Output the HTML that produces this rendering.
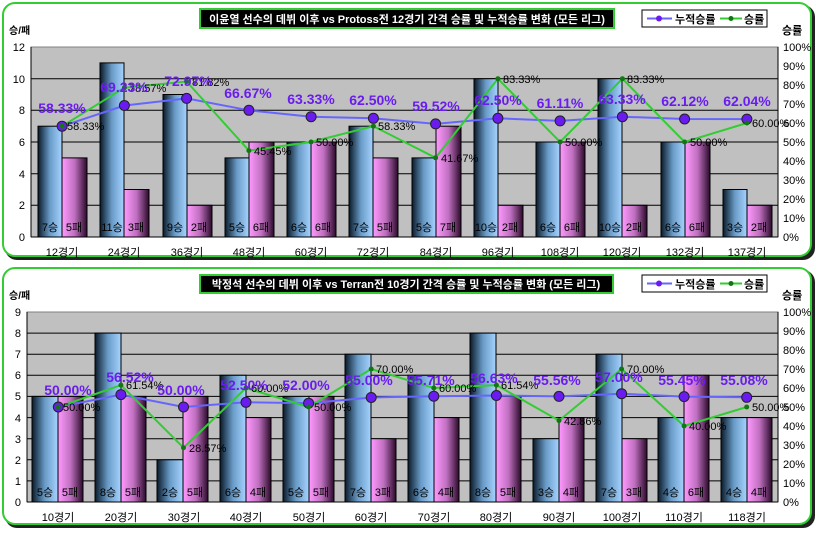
<!DOCTYPE html>
<html><head><meta charset="utf-8"><style>
body{margin:0;background:#fff}
svg text{font-family:"Liberation Sans","Noto Sans CJK KR",sans-serif}
.ax{font-size:11px;fill:#000}
.cat{font-size:11px;fill:#000;text-anchor:middle}
.in{font-size:11px;fill:#000;text-anchor:middle}
.cum{font-size:14px;font-weight:bold;fill:#6a1cf0;text-anchor:middle}
.wl{font-size:11px;fill:#000}
</style></head><body>
<svg width="817" height="530" xmlns="http://www.w3.org/2000/svg">
<defs>
<linearGradient id="gb" x1="0" x2="1" y1="0" y2="0"><stop offset="0" stop-color="#0a1a2a"/><stop offset="0.5" stop-color="#6a9cc8"/><stop offset="1" stop-color="#a6d2ff"/></linearGradient>
<linearGradient id="gp" x1="0" x2="1" y1="0" y2="0"><stop offset="0" stop-color="#ff99ff"/><stop offset="0.5" stop-color="#c070c0"/><stop offset="1" stop-color="#2a0a2a"/></linearGradient>
</defs>
<!-- panels -->
<rect x="5" y="5" width="810" height="255" rx="12" fill="#222"/>
<rect x="3" y="3" width="808" height="253" rx="12" fill="#fff" stroke="#33cc33" stroke-width="2"/>
<rect x="5" y="270" width="810" height="258" rx="12" fill="#222"/>
<rect x="3" y="268" width="808" height="256" rx="12" fill="#fff" stroke="#33cc33" stroke-width="2"/>

<!-- TOP CHART -->
<rect x="31" y="47" width="747" height="190" fill="#c0c0c0" stroke="#808080"/>
<g stroke="#000" stroke-width="1">
<line x1="31" x2="778" y1="205.3" y2="205.3"/><line x1="31" x2="778" y1="173.7" y2="173.7"/><line x1="31" x2="778" y1="142" y2="142"/><line x1="31" x2="778" y1="110.3" y2="110.3"/><line x1="31" x2="778" y1="78.7" y2="78.7"/>
<line x1="31" x2="31" y1="47" y2="237"/><line x1="778" x2="778" y1="47" y2="237"/><line x1="31" x2="778" y1="237" y2="237"/>
</g>
<g stroke="#000" stroke-width="1">
<rect x="38" y="126.2" width="24" height="110.8" fill="url(#gb)"/><rect x="62" y="157.9" width="25" height="79.1" fill="url(#gp)"/>
<rect x="100" y="62.9" width="24" height="174.1" fill="url(#gb)"/><rect x="124" y="189.5" width="25" height="47.5" fill="url(#gp)"/>
<rect x="163" y="94.5" width="24" height="142.5" fill="url(#gb)"/><rect x="187" y="205.3" width="25" height="31.7" fill="url(#gp)"/>
<rect x="225" y="157.9" width="24" height="79.1" fill="url(#gb)"/><rect x="249" y="142" width="25" height="95" fill="url(#gp)"/>
<rect x="287" y="142" width="24" height="95" fill="url(#gb)"/><rect x="311" y="142" width="25" height="95" fill="url(#gp)"/>
<rect x="349" y="126.2" width="24" height="110.8" fill="url(#gb)"/><rect x="373" y="157.9" width="25" height="79.1" fill="url(#gp)"/>
<rect x="412" y="157.9" width="24" height="79.1" fill="url(#gb)"/><rect x="436" y="126.2" width="25" height="110.8" fill="url(#gp)"/>
<rect x="474" y="78.7" width="24" height="158.3" fill="url(#gb)"/><rect x="498" y="205.3" width="25" height="31.7" fill="url(#gp)"/>
<rect x="536" y="142" width="24" height="95" fill="url(#gb)"/><rect x="560" y="142" width="25" height="95" fill="url(#gp)"/>
<rect x="598" y="78.7" width="24" height="158.3" fill="url(#gb)"/><rect x="622" y="205.3" width="25" height="31.7" fill="url(#gp)"/>
<rect x="661" y="142" width="24" height="95" fill="url(#gb)"/><rect x="685" y="142" width="25" height="95" fill="url(#gp)"/>
<rect x="723" y="189.5" width="24" height="47.5" fill="url(#gb)"/><rect x="747" y="205.3" width="25" height="31.7" fill="url(#gp)"/>
</g>
<g class="in">
<text x="50" y="231">7승</text><text x="74" y="231">5패</text>
<text x="112" y="231">11승</text><text x="136" y="231">3패</text>
<text x="175" y="231">9승</text><text x="199" y="231">2패</text>
<text x="237" y="231">5승</text><text x="261" y="231">6패</text>
<text x="299" y="231">6승</text><text x="323" y="231">6패</text>
<text x="361" y="231">7승</text><text x="385" y="231">5패</text>
<text x="424" y="231">5승</text><text x="448" y="231">7패</text>
<text x="486" y="231">10승</text><text x="510" y="231">2패</text>
<text x="548" y="231">6승</text><text x="572" y="231">6패</text>
<text x="610" y="231">10승</text><text x="634" y="231">2패</text>
<text x="673" y="231">6승</text><text x="697" y="231">6패</text>
<text x="735" y="231">3승</text><text x="759" y="231">2패</text>
</g>
<polyline fill="none" stroke="#6666ff" stroke-width="2" points="62.1,126.2 124.4,105.5 186.6,98.4 248.9,110.3 311.1,116.7 373.4,118.3 435.6,123.9 497.9,118.3 560.1,120.9 622.4,116.7 684.6,119 746.9,119.1"/>
<polyline fill="none" stroke="#33cc33" stroke-width="2" points="62.1,126.2 124.4,87.7 186.6,81.5 248.9,150.6 311.1,142 373.4,126.2 435.6,157.8 497.9,78.7 560.1,142 622.4,78.7 684.6,142 746.9,123"/>
<g fill="#6a1cf0" stroke="#222" stroke-width="1">
<circle cx="62.1" cy="126.2" r="5"/><circle cx="124.4" cy="105.5" r="5"/><circle cx="186.6" cy="98.4" r="5"/><circle cx="248.9" cy="110.3" r="5"/><circle cx="311.1" cy="116.7" r="5"/><circle cx="373.4" cy="118.3" r="5"/><circle cx="435.6" cy="123.9" r="5"/><circle cx="497.9" cy="118.3" r="5"/><circle cx="560.1" cy="120.9" r="5"/><circle cx="622.4" cy="116.7" r="5"/><circle cx="684.6" cy="119" r="5"/><circle cx="746.9" cy="119.1" r="5"/>
</g>
<g fill="#117711">
<circle cx="62.1" cy="126.2" r="2.5"/><circle cx="124.4" cy="87.7" r="2.5"/><circle cx="186.6" cy="81.5" r="2.5"/><circle cx="248.9" cy="150.6" r="2.5"/><circle cx="311.1" cy="142" r="2.5"/><circle cx="373.4" cy="126.2" r="2.5"/><circle cx="435.6" cy="157.8" r="2.5"/><circle cx="497.9" cy="78.7" r="2.5"/><circle cx="560.1" cy="142" r="2.5"/><circle cx="622.4" cy="78.7" r="2.5"/><circle cx="684.6" cy="142" r="2.5"/><circle cx="746.9" cy="123" r="2.5"/>
</g>
<g class="wl">
<text x="67" y="130">58.33%</text><text x="129" y="92">78.57%</text><text x="192" y="86">81.82%</text><text x="254" y="155">45.45%</text><text x="316" y="146">50.00%</text><text x="378" y="130">58.33%</text><text x="441" y="162">41.67%</text><text x="503" y="83">83.33%</text><text x="565" y="146">50.00%</text><text x="627" y="83">83.33%</text><text x="690" y="146">50.00%</text><text x="752" y="127">60.00%</text>
</g>
<g class="cum">
<text x="62" y="113">58.33%</text><text x="124" y="92">69.23%</text><text x="188" y="86">72.97%</text><text x="248" y="98">66.67%</text><text x="311" y="104">63.33%</text><text x="373" y="105">62.50%</text><text x="436" y="111">59.52%</text><text x="498" y="105">62.50%</text><text x="560" y="108">61.11%</text><text x="622" y="104">63.33%</text><text x="685" y="106">62.12%</text><text x="747" y="106">62.04%</text>
</g>
<g class="ax" text-anchor="end">
<text x="25" y="241">0</text><text x="25" y="209">2</text><text x="25" y="178">4</text><text x="25" y="146">6</text><text x="25" y="114">8</text><text x="25" y="83">10</text><text x="25" y="51">12</text>
</g>
<g class="ax">
<text x="783" y="241">0%</text><text x="783" y="222">10%</text><text x="783" y="203">20%</text><text x="783" y="184">30%</text><text x="783" y="165">40%</text><text x="783" y="146">50%</text><text x="783" y="127">60%</text><text x="783" y="108">70%</text><text x="783" y="89">80%</text><text x="783" y="70">90%</text><text x="783" y="51">100%</text>
</g>
<g class="cat">
<text x="62" y="256">12경기</text><text x="124" y="256">24경기</text><text x="187" y="256">36경기</text><text x="249" y="256">48경기</text><text x="311" y="256">60경기</text><text x="373" y="256">72경기</text><text x="436" y="256">84경기</text><text x="498" y="256">96경기</text><text x="560" y="256">108경기</text><text x="622" y="256">120경기</text><text x="685" y="256">132경기</text><text x="747" y="256">137경기</text>
</g>
<text x="9" y="34" style="font-size:10px;font-weight:bold">승/패</text>
<text x="782" y="34" style="font-size:11px;font-weight:bold">승률</text>
<rect x="200" y="9" width="414" height="19" fill="#000" stroke="#33cc33" stroke-width="2"/>
<text x="407" y="23" text-anchor="middle" style="font-size:11px;font-weight:bold;fill:#fff">이윤열 선수의 데뷔 이후 vs Protoss전 12경기 간격 승률 및 누적승률 변화 (모든 리그)</text>
<rect x="642" y="10" width="125" height="17" fill="#fff" stroke="#000"/>
<line x1="647" x2="672" y1="18.5" y2="18.5" stroke="#6666ff" stroke-width="2"/><circle cx="659" cy="18.5" r="3" fill="#6a1cf0"/>
<text x="675" y="23" style="font-size:11px;font-weight:bold">누적승률</text>
<line x1="720" x2="742" y1="18.5" y2="18.5" stroke="#33cc33" stroke-width="2"/><circle cx="731" cy="18.5" r="2.5" fill="#117711"/>
<text x="744" y="23" style="font-size:11px;font-weight:bold">승률</text>

<!-- BOTTOM CHART -->
<rect x="27" y="312" width="751" height="190" fill="#c0c0c0" stroke="#808080"/>
<g stroke="#000" stroke-width="1">
<line x1="27" x2="778" y1="480.9" y2="480.9"/><line x1="27" x2="778" y1="459.8" y2="459.8"/><line x1="27" x2="778" y1="438.7" y2="438.7"/><line x1="27" x2="778" y1="417.6" y2="417.6"/><line x1="27" x2="778" y1="396.4" y2="396.4"/><line x1="27" x2="778" y1="375.3" y2="375.3"/><line x1="27" x2="778" y1="354.2" y2="354.2"/><line x1="27" x2="778" y1="333.1" y2="333.1"/>
<line x1="27" x2="27" y1="312" y2="502"/><line x1="778" x2="778" y1="312" y2="502"/><line x1="27" x2="778" y1="502" y2="502"/>
</g>
<g stroke="#000" stroke-width="1">
<rect x="32" y="396.4" width="26" height="105.6" fill="url(#gb)"/><rect x="58" y="396.4" width="25" height="105.6" fill="url(#gp)"/>
<rect x="95" y="333.1" width="26" height="168.9" fill="url(#gb)"/><rect x="121" y="396.4" width="25" height="105.6" fill="url(#gp)"/>
<rect x="157" y="459.8" width="26" height="42.2" fill="url(#gb)"/><rect x="183" y="396.4" width="25" height="105.6" fill="url(#gp)"/>
<rect x="220" y="375.3" width="26" height="126.7" fill="url(#gb)"/><rect x="246" y="417.6" width="25" height="84.4" fill="url(#gp)"/>
<rect x="283" y="396.4" width="26" height="105.6" fill="url(#gb)"/><rect x="309" y="396.4" width="25" height="105.6" fill="url(#gp)"/>
<rect x="345" y="354.2" width="26" height="147.8" fill="url(#gb)"/><rect x="371" y="438.7" width="25" height="63.3" fill="url(#gp)"/>
<rect x="408" y="375.3" width="26" height="126.7" fill="url(#gb)"/><rect x="434" y="417.6" width="25" height="84.4" fill="url(#gp)"/>
<rect x="470" y="333.1" width="26" height="168.9" fill="url(#gb)"/><rect x="496" y="396.4" width="25" height="105.6" fill="url(#gp)"/>
<rect x="533" y="438.7" width="26" height="63.3" fill="url(#gb)"/><rect x="559" y="417.6" width="25" height="84.4" fill="url(#gp)"/>
<rect x="596" y="354.2" width="26" height="147.8" fill="url(#gb)"/><rect x="622" y="438.7" width="25" height="63.3" fill="url(#gp)"/>
<rect x="658" y="417.6" width="26" height="84.4" fill="url(#gb)"/><rect x="684" y="375.3" width="25" height="126.7" fill="url(#gp)"/>
<rect x="721" y="417.6" width="26" height="84.4" fill="url(#gb)"/><rect x="747" y="417.6" width="25" height="84.4" fill="url(#gp)"/>
</g>
<g class="in">
<text x="45" y="496">5승</text><text x="70" y="496">5패</text>
<text x="108" y="496">8승</text><text x="133" y="496">5패</text>
<text x="170" y="496">2승</text><text x="195" y="496">5패</text>
<text x="233" y="496">6승</text><text x="258" y="496">4패</text>
<text x="296" y="496">5승</text><text x="321" y="496">5패</text>
<text x="358" y="496">7승</text><text x="383" y="496">3패</text>
<text x="421" y="496">6승</text><text x="446" y="496">4패</text>
<text x="483" y="496">8승</text><text x="508" y="496">5패</text>
<text x="546" y="496">3승</text><text x="571" y="496">4패</text>
<text x="609" y="496">7승</text><text x="634" y="496">3패</text>
<text x="671" y="496">4승</text><text x="696" y="496">6패</text>
<text x="734" y="496">4승</text><text x="759" y="496">4패</text>
</g>
<polyline fill="none" stroke="#6666ff" stroke-width="2" points="58.3,407 120.9,394.6 183.5,407 246,402.3 308.6,403.2 371.2,397.5 433.8,396.2 496.4,395.5 559,396.4 621.6,393.7 684.1,396.6 746.7,397.3"/>
<polyline fill="none" stroke="#33cc33" stroke-width="2" points="58.3,407 120.9,385.1 183.5,447.7 246,388 308.6,407 371.2,369 433.8,388 496.4,385.1 559,420.6 621.6,369 684.1,426 746.7,407"/>
<g fill="#6a1cf0" stroke="#222" stroke-width="1">
<circle cx="58.3" cy="407" r="5"/><circle cx="120.9" cy="394.6" r="5"/><circle cx="183.5" cy="407" r="5"/><circle cx="246" cy="402.3" r="5"/><circle cx="308.6" cy="403.2" r="5"/><circle cx="371.2" cy="397.5" r="5"/><circle cx="433.8" cy="396.2" r="5"/><circle cx="496.4" cy="395.5" r="5"/><circle cx="559" cy="396.4" r="5"/><circle cx="621.6" cy="393.7" r="5"/><circle cx="684.1" cy="396.6" r="5"/><circle cx="746.7" cy="397.3" r="5"/>
</g>
<g fill="#117711">
<circle cx="58.3" cy="407" r="2.5"/><circle cx="120.9" cy="385.1" r="2.5"/><circle cx="183.5" cy="447.7" r="2.5"/><circle cx="246" cy="388" r="2.5"/><circle cx="308.6" cy="407" r="2.5"/><circle cx="371.2" cy="369" r="2.5"/><circle cx="433.8" cy="388" r="2.5"/><circle cx="496.4" cy="385.1" r="2.5"/><circle cx="559" cy="420.6" r="2.5"/><circle cx="621.6" cy="369" r="2.5"/><circle cx="684.1" cy="426" r="2.5"/><circle cx="746.7" cy="407" r="2.5"/>
</g>
<g class="wl">
<text x="63" y="411">50.00%</text><text x="126" y="389">61.54%</text><text x="189" y="452">28.57%</text><text x="251" y="392">60.00%</text><text x="314" y="411">50.00%</text><text x="376" y="373">70.00%</text><text x="439" y="392">60.00%</text><text x="501" y="389">61.54%</text><text x="564" y="425">42.86%</text><text x="627" y="373">70.00%</text><text x="689" y="430">40.00%</text><text x="752" y="411">50.00%</text>
</g>
<g class="cum">
<text x="68" y="395">50.00%</text><text x="130" y="382">56.52%</text><text x="181" y="395">50.00%</text><text x="244" y="390">52.50%</text><text x="306" y="390">52.00%</text><text x="369" y="385">55.00%</text><text x="431" y="385">55.71%</text><text x="494" y="383">56.63%</text><text x="557" y="385">55.56%</text><text x="619" y="382">57.00%</text><text x="682" y="385">55.45%</text><text x="744" y="385">55.08%</text>
</g>
<g class="ax" text-anchor="end">
<text x="21" y="506">0</text><text x="21" y="485">1</text><text x="21" y="464">2</text><text x="21" y="443">3</text><text x="21" y="422">4</text><text x="21" y="400">5</text><text x="21" y="379">6</text><text x="21" y="358">7</text><text x="21" y="337">8</text><text x="21" y="316">9</text>
</g>
<g class="ax">
<text x="783" y="506">0%</text><text x="783" y="487">10%</text><text x="783" y="468">20%</text><text x="783" y="449">30%</text><text x="783" y="430">40%</text><text x="783" y="411">50%</text><text x="783" y="392">60%</text><text x="783" y="373">70%</text><text x="783" y="354">80%</text><text x="783" y="335">90%</text><text x="783" y="316">100%</text>
</g>
<g class="cat">
<text x="58" y="521">10경기</text><text x="121" y="521">20경기</text><text x="184" y="521">30경기</text><text x="246" y="521">40경기</text><text x="309" y="521">50경기</text><text x="371" y="521">60경기</text><text x="434" y="521">70경기</text><text x="496" y="521">80경기</text><text x="559" y="521">90경기</text><text x="622" y="521">100경기</text><text x="684" y="521">110경기</text><text x="747" y="521">118경기</text>
</g>
<text x="9" y="299" style="font-size:10px;font-weight:bold">승/패</text>
<text x="782" y="299" style="font-size:11px;font-weight:bold">승률</text>
<rect x="200" y="275" width="413" height="18" fill="#000" stroke="#33cc33" stroke-width="2"/>
<text x="406" y="288" text-anchor="middle" style="font-size:11px;font-weight:bold;fill:#fff">박정석 선수의 데뷔 이후 vs Terran전 10경기 간격 승률 및 누적승률 변화 (모든 리그)</text>
<rect x="642" y="275" width="125" height="17" fill="#fff" stroke="#000"/>
<line x1="647" x2="672" y1="283.5" y2="283.5" stroke="#6666ff" stroke-width="2"/><circle cx="659" cy="283.5" r="3" fill="#6a1cf0"/>
<text x="675" y="288" style="font-size:11px;font-weight:bold">누적승률</text>
<line x1="720" x2="742" y1="283.5" y2="283.5" stroke="#33cc33" stroke-width="2"/><circle cx="731" cy="283.5" r="2.5" fill="#117711"/>
<text x="744" y="288" style="font-size:11px;font-weight:bold">승률</text>
</svg>
</body></html>
